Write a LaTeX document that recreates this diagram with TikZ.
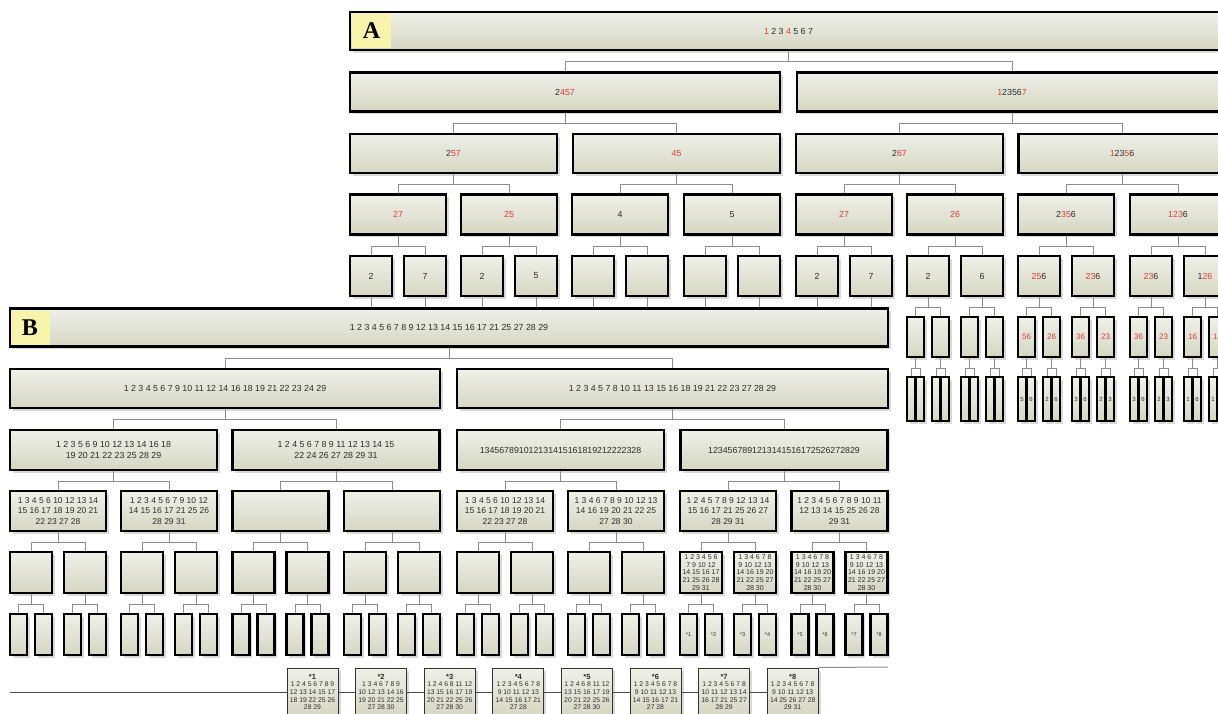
\documentclass[tikz,border=0pt]{standalone}
\usepackage{fontspec}
\setmainfont{Liberation Serif}
\setsansfont{Liberation Sans}
\usetikzlibrary{shadows}
\definecolor{boxlt}{HTML}{EFF0E8}
\definecolor{boxdk}{HTML}{D5D7C2}
\definecolor{linkgray}{HTML}{8C8C8C}
\definecolor{redtxt}{HTML}{E0393B}
\definecolor{numgray}{HTML}{2C2C2C}
\definecolor{tagyellow}{HTML}{F8F4AC}
\newcommand{\rd}[1]{\textcolor{redtxt}{#1}}
\newcommand{\branch}[2]{\draw[link] (#1.south) -- ++(0,10.5) -| (#2.north);}

\begin{document}
\begin{tikzpicture}[
  x=1pt, y=-1pt,
  font=\sffamily\fontsize{8.8}{10.5}\selectfont,
  nd/.style={draw=black, line width=2.6pt, top color=boxlt, bottom color=boxdk,
             inner sep=0pt, align=center, text=numgray,
             drop shadow={shadow xshift=2.5pt, shadow yshift=-2.5pt, opacity=.25, fill=black!60}},
  full/.style={nd, minimum width=878pt, minimum height=38pt},
  half/.style={nd, minimum width=430pt, minimum height=39pt},
  quarter/.style={nd, minimum width=207pt, minimum height=39pt},
  eighth/.style={nd, minimum width=96pt, minimum height=40pt,
                 font=\sffamily\fontsize{8.5}{10.5}\selectfont},
  sq/.style={nd, minimum width=42pt, minimum height=40pt},
  packed/.style={font=\sffamily\fontsize{7}{7.6}\selectfont},
  tall/.style={nd, minimum width=17pt, minimum height=40pt,
               font=\sffamily\fontsize{8}{9}\selectfont},
  tiny/.style={font=\sffamily\fontsize{5.5}{6}\selectfont},
  thin/.style={nd, line width=2pt, minimum width=8pt, minimum height=44pt,
               font=\sffamily\fontsize{6}{7}\selectfont},
  leaf/.style={nd, line width=1pt, draw=black!80, minimum width=51pt, minimum height=48pt,
               font=\sffamily\fontsize{6.8}{7.6}\selectfont},
  tag/.style={fill=tagyellow, minimum width=39pt, minimum height=34pt, inner sep=0pt,
              font=\rmfamily\bfseries\fontsize{24}{24}\selectfont},
  link/.style={draw=linkgray, line width=1pt},
  rowline/.style={draw=black!70, line width=0.9pt}
]
\path[use as bounding box, clip] (0,0) rectangle (1218,713);

% tree A
\node[full, minimum width=877pt] (aroot) at (788.5,31) {\rd{1} 2 3 \rd{4} 5 6 7};
\node[tag] (tagA) at (371.5,31) {A};
\node[half] (a1) at (565,92) {2\rd{457}};
\node[half] (a2) at (1012,92) {\rd{1}2356\rd{7}};
\branch{aroot}{a1} \branch{aroot}{a2}

\node[quarter] (a11) at (453.5,153.5) {2\rd{57}};
\node[quarter] (a12) at (676.5,153.5) {\rd{45}};
\node[quarter] (a21) at (899.5,153.5) {2\rd{67}};
\node[quarter] (a22) at (1122,153.5) {\rd{1}23\rd{5}6};
\branch{a1}{a11} \branch{a1}{a12} \branch{a2}{a21} \branch{a2}{a22}

\foreach \p/\n/\x/\t in {a11/a111/398/{\rd{27}}, a11/a112/509/{\rd{25}},
    a12/a121/620/4, a12/a122/732/5, a21/a211/844/{\rd{27}}, a21/a212/955/{\rd{26}},
    a22/a221/1066/{2\rd{35}6}, a22/a222/1178/{\rd{123}6}}{
  \node[eighth, font=\sffamily\fontsize{8.8}{10.5}\selectfont] (\n) at (\x,214.5) {\t};
  \branch{\p}{\n}
}

\foreach \p/\x/\l/\r in {a111/398/2/7, a112/509/2/5, a121/620/{}/{}, a122/732/{}/{},
    a211/844/2/7, a212/955/2/6, a221/1066/{\rd{25}6}/{\rd{23}6},
    a222/1178/{\rd{23}6}/{1\rd{26}}}{
  \node[sq] (\p-1) at ({\x-27},276) {\l};
  \node[sq] (\p-2) at ({\x+27},276) {\r};
  \branch{\p}{\p-1} \branch{\p}{\p-2}
}
\foreach \n in {a111-1,a111-2,a112-1,a112-2,a121-1,a121-2,a122-1,a122-2,a211-1,a211-2}
  \draw[link] (\n.south) -- ++(0,14);

\foreach \p/\n/\x/\t/\u/\v in {a212-1/a212-1-1/915.5/{}/{}/{}, a212-1/a212-1-2/940.5/{}/{}/{},
    a212-2/a212-2-1/969.5/{}/{}/{}, a212-2/a212-2-2/994.5/{}/{}/{},
    a221-1/a221-1-1/1026.5/{\rd{56}}/5/6, a221-1/a221-1-2/1051.5/{\rd{26}}/2/6,
    a221-2/a221-2-1/1080.5/{\rd{36}}/3/6, a221-2/a221-2-2/1105.5/{\rd{23}}/2/3,
    a222-1/a222-1-1/1138.5/{\rd{36}}/3/6, a222-1/a222-1-2/1163.5/{\rd{23}}/2/3,
    a222-2/a222-2-1/1192.5/{\rd{16}}/1/6, a222-2/a222-2-2/1217.5/{\rd{12}}/1/2}{
  \node[tall] (\n) at (\x,337) {\t};
  \branch{\p}{\n}
  \node[thin] (\n-1) at ({\x-4.5},399) {\u};
  \node[thin] (\n-2) at ({\x+4.5},399) {\v};
  \draw[link] (\n.south) -- ++(0,10) -| (\n-1.north);
  \draw[link] (\n.south) -- ++(0,10) -| (\n-2.north);
}

% tree B
\node[full] (broot) at (449,327.5) {1 2 3 4 5 6 7 8 9 12 13 14 15 16 17 21 25 27 28 29};
\node[tag] (tagB) at (30,328) {B};
\node[half] (b1) at (225,388.5) {1 2 3 4 5 6 7 9 10 11 12 14 16 18 19 21 22 23 24 29};
\node[half, minimum width=431pt] (b2) at (672.5,388.5) {1 2 3 4 5 7 8 10 11 13 15 16 18 19 21 22 23 27 28 29};
\branch{broot}{b1} \branch{broot}{b2}

\node[quarter, minimum height=40pt] (b11) at (113.5,450) {1 2 3 5 6 9 10 12 13 14 16 18\\19 20 21 22 23 25 28 29};
\node[quarter, minimum height=40pt] (b12) at (336,450) {1 2 4 5 6 7 8 9 11 12 13 14 15\\22 24 26 27 28 29 31};
\node[quarter, minimum height=40pt] (b21) at (560.5,450) {134567891012131415161819212222328};
\node[quarter, minimum height=40pt] (b22) at (784,450) {1234567891213141516172526272829};
\branch{b1}{b11} \branch{b1}{b12} \branch{b2}{b21} \branch{b2}{b22}

\foreach \p/\n/\x/\t in {
    b11/b111/58/{1 3 4 5 6 10 12 13 14\\15 16 17 18 19 20 21\\22 23 27 28},
    b11/b112/169/{1 2 3 4 5 6 7 9 10 12\\14 15 16 17 21 25 26\\28 29 31},
    b12/b121/280.5/{}, b12/b122/392/{},
    b21/b211/505/{1 3 4 5 6 10 12 13 14\\15 16 17 18 19 20 21\\22 23 27 28},
    b21/b212/616/{1 3 4 6 7 8 9 10 12 13\\14 16 19 20 21 22 25\\27 28 30},
    b22/b221/728/{1 2 4 5 7 8 9 12 13 14\\15 16 17 21 25 26 27\\28 29 31},
    b22/b222/839.5/{1 2 3 4 5 6 7 8 9 10 11\\12 13 14 15 25 26 28\\29 31}}{
  \node[eighth] (\n) at (\x,511) {\t};
  \branch{\p}{\n}
}

\foreach \p/\x/\l/\r in {b111/58/{}/{}, b112/169/{}/{}, b121/280.5/{}/{}, b122/392/{}/{},
    b211/505/{}/{}, b212/616/{}/{},
    b221/728/{1 2 3 4 5 6\\7 9 10 12\\14 15 16 17\\21 25 26 28\\29 31}/{1 3 4 6 7 8\\9 10 12 13\\14 16 19 20\\21 22 25 27\\28 30},
    b222/839.5/{1 3 4 6 7 8\\9 10 12 13\\14 16 19 20\\21 22 25 27\\28 30}/{1 3 4 6 7 8\\9 10 12 13\\14 16 19 20\\21 22 25 27\\28 30}}{
  \node[sq, packed, minimum height=41pt] (\p-1) at ({\x-27},572.5) {\l};
  \node[sq, packed, minimum height=41pt] (\p-2) at ({\x+27},572.5) {\r};
  \branch{\p}{\p-1} \branch{\p}{\p-2}
}

\foreach \p/\x/\l/\r in {b111-1/31/{}/{}, b111-2/85/{}/{}, b112-1/142/{}/{}, b112-2/196/{}/{},
    b121-1/253.5/{}/{}, b121-2/307.5/{}/{}, b122-1/365/{}/{}, b122-2/419/{}/{},
    b211-1/478/{}/{}, b211-2/532/{}/{}, b212-1/589/{}/{}, b212-2/643/{}/{},
    b221-1/701/{*1}/{*2}, b221-2/755/{*3}/{*4}, b222-1/812.5/{*5}/{*6}, b222-2/866.5/{*7}/{*8}}{
  \node[tall, tiny, minimum height=41pt] (\p-1) at ({\x-12.5},634.5) {\l};
  \node[tall, tiny, minimum height=41pt] (\p-2) at ({\x+12.5},634.5) {\r};
  \branch{\p}{\p-1} \branch{\p}{\p-2}
}

% bottom row
\coordinate (rowstart) at (10,692);
\coordinate (rowend) at (888,667);
\foreach \i/\t in {1/{1 2 4 5 6 7 8 9\\12 13 14 15 17\\18 19 22 25 26\\28 29},
    2/{1 3 4 6 7 8 9\\10 12 13 14 16\\19 20 21 22 25\\27 28 30},
    3/{1 2 4 6 8 11 12\\13 15 16 17 19\\20 21 22 25 26\\27 28 30},
    4/{1 2 3 4 5 6 7 8\\9 10 11 12 13\\14 15 16 17 21\\27 28},
    5/{1 2 4 6 8 11 12\\13 15 16 17 19\\20 21 22 25 26\\27 28 30},
    6/{1 2 3 4 5 6 7 8\\9 10 11 12 13\\14 15 16 17 21\\27 28},
    7/{1 2 3 4 5 6 7 8\\10 11 12 13 14\\16 17 21 25 27\\28 29},
    8/{1 2 3 4 5 6 7 8\\9 10 11 12 13\\14 25 26 27 28\\29 31}}
  \node[leaf] (bb\i) at ({312.5+68.6*(\i-1)},692) {{\bfseries\fontsize{7.5}{8}\selectfont *\i}\\\t};
\draw[rowline] (rowstart) -- (bb1);
\foreach \i [count=\j from 2] in {1,...,7}
  \draw[rowline] (bb\i) -- (bb\j);
\draw[link] (bb8.north east) -- (rowend);
\end{tikzpicture}
\end{document}
